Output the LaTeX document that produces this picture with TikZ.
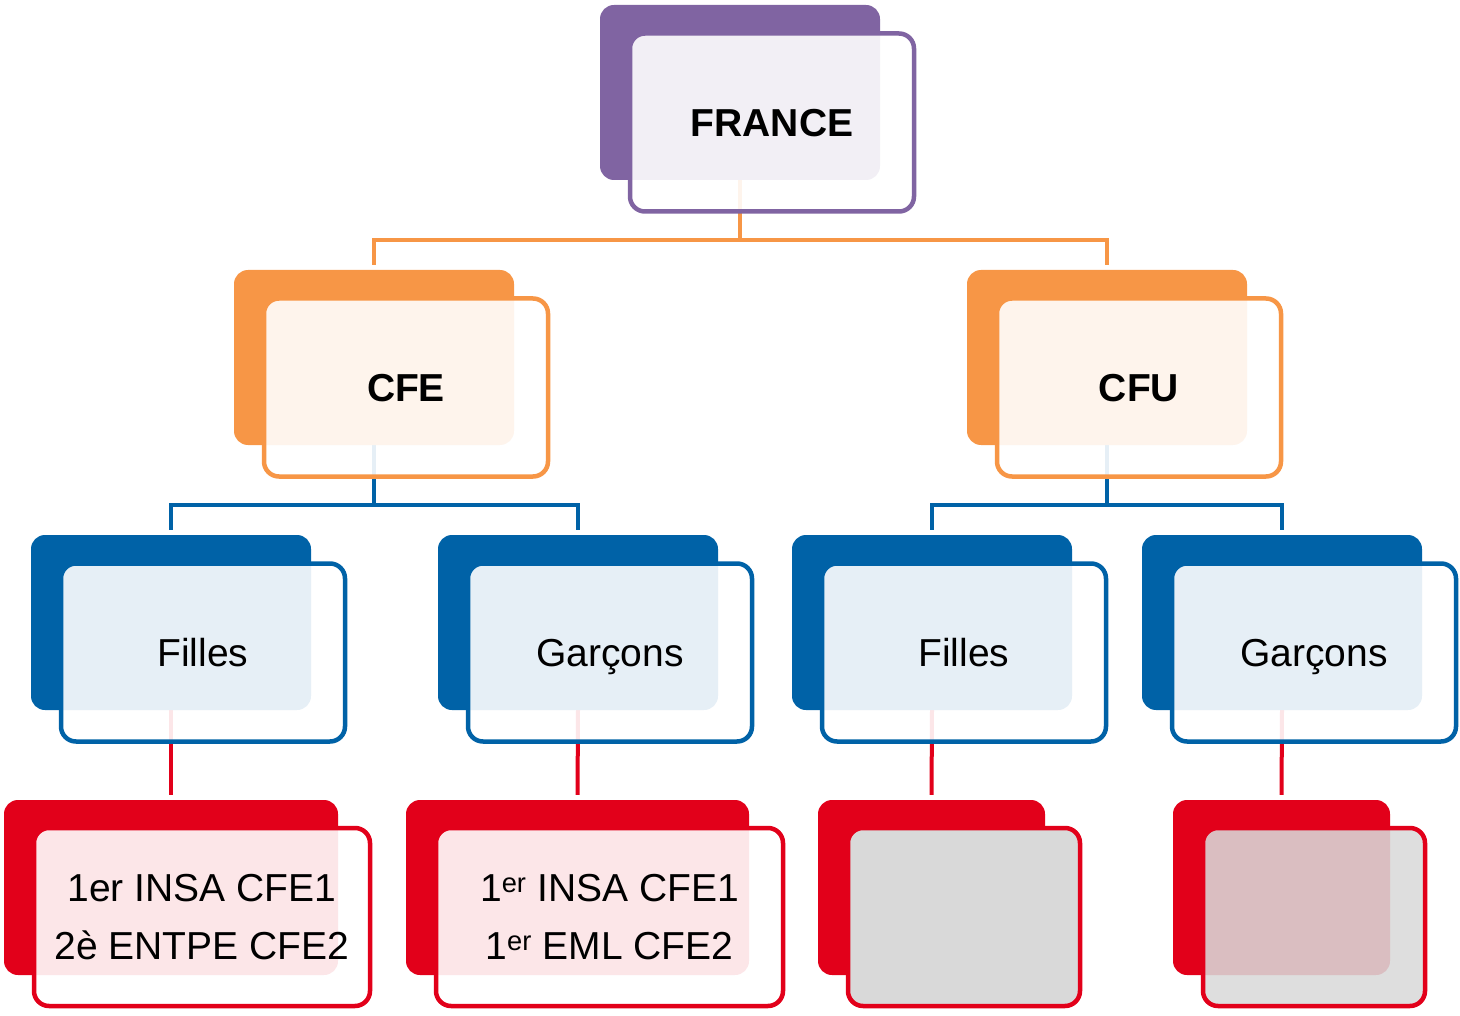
\documentclass[tikz,border=0pt]{standalone}
\usepackage{fontspec}
\setmainfont{Liberation Sans}
\definecolor{frpurple}{HTML}{8064A2}
\definecolor{frorange}{HTML}{F79646}
\definecolor{frblue}{HTML}{0062A7}
\definecolor{frred}{HTML}{E2001A}
\definecolor{frgray}{HTML}{D9D9D9}
\pgfdeclarelayer{bg}
\pgfsetlayers{bg,main}
\tikzset{
  backbox/.style = {fill=#1, rounded corners=14pt, inner sep=0pt,
    minimum width=280pt, minimum height=175pt},
  frontbox/.style = {draw=#1, line width=4.5pt, fill=white, fill opacity=0.9,
    text opacity=1, rounded corners=15pt, inner sep=0pt,
    minimum width=284pt, minimum height=178pt,
    font=\fontsize{39}{58}\selectfont},
  boldtext/.style = {font=\fontsize{39}{58}\selectfont\bfseries},
  onerow/.style = {text depth=0pt},
  tworows/.style = {align=center},
  link/.style = {draw=#1, line width=4pt, shorten >=5pt}
}

\begin{document}
\begin{tikzpicture}[x=1pt,y=-1pt]
    \useasboundingbox (0,0) rectangle (1460,1016);

    % level 1
    \node [backbox=frpurple] (france) at (740,92.5) {};
    \node [frontbox=frpurple, boldtext, onerow] (francef) at ([shift={(32,30)}]france.center) {FRANCE};

    % level 2
    \node [backbox=frorange] (cfe) at (374,357.5) {};
    \node [frontbox=frorange, boldtext, onerow] (cfef) at ([shift={(32,30)}]cfe.center) {CFE};
    \node [backbox=frorange] (cfu) at (1107,357.5) {};
    \node [frontbox=frorange, boldtext, onerow] (cfuf) at ([shift={(32,30)}]cfu.center) {CFU};

    % level 3
    \node [backbox=frblue] (fillesa) at (171,622.5) {};
    \node [frontbox=frblue, onerow] (fillesaf) at ([shift={(32,30)}]fillesa.center) {Filles};
    \node [backbox=frblue] (garconsa) at (578,622.5) {};
    \node [frontbox=frblue, onerow] (garconsaf) at ([shift={(32,30)}]garconsa.center) {Garçons};
    \node [backbox=frblue] (fillesb) at (932,622.5) {};
    \node [frontbox=frblue, onerow] (fillesbf) at ([shift={(32,30)}]fillesb.center) {Filles};
    \node [backbox=frblue] (garconsb) at (1282,622.5) {};
    \node [frontbox=frblue, onerow] (garconsbf) at ([shift={(32,30)}]garconsb.center) {Garçons};

    % level 4
    \node [backbox=frred, minimum width=334pt] (ranka) at (171,887.5) {};
    \node [frontbox=frred, tworows, minimum width=336pt] (rankaf) at ([shift={(31,29.5)}]ranka.center)
        {1er INSA CFE1\\2è ENTPE CFE2};
    \node [backbox=frred, minimum width=343pt] (rankb) at (577.5,887.5) {};
    \node [frontbox=frred, tworows, minimum width=347pt] (rankbf) at ([shift={(32,29.5)}]rankb.center)
        {1\textsuperscript{er} INSA CFE1\\1\textsuperscript{er} EML CFE2};
    \node [backbox=frred, minimum width=227pt] (rankc) at (931.5,887.5) {};
    \node [frontbox=frred, fill=frgray, fill opacity=1, minimum width=232pt] (rankcf)
        at ([shift={(32.5,29.5)}]rankc.center) {};
    \node [backbox=frred, minimum width=217pt] (rankd) at (1281.5,887.5) {};
    \node [frontbox=frred, fill=frgray, fill opacity=0.88, minimum width=222pt] (rankdf)
        at ([shift={(32.5,29.5)}]rankd.center) {};

    % connectors
    \begin{pgfonlayer}{bg}
    \draw [link=frorange] (france.south) -- ++(0,60) -| (cfe.north);
    \draw [link=frorange] (france.south) -- ++(0,60) -| (cfu.north);
    \draw [link=frblue] (cfe.south) -- ++(0,60) -| (fillesa.north);
    \draw [link=frblue] (cfe.south) -- ++(0,60) -| (garconsa.north);
    \draw [link=frblue] (cfu.south) -- ++(0,60) -| (fillesb.north);
    \draw [link=frblue] (cfu.south) -- ++(0,60) -| (garconsb.north);
    \draw [link=frred] (fillesa.south) -- (ranka.north);
    \draw [link=frred] (garconsa.south) -- (rankb.north);
    \draw [link=frred] (fillesb.south) -- (rankc.north);
    \draw [link=frred] (garconsb.south) -- (rankd.north);
    \end{pgfonlayer}
\end{tikzpicture}
\end{document}
